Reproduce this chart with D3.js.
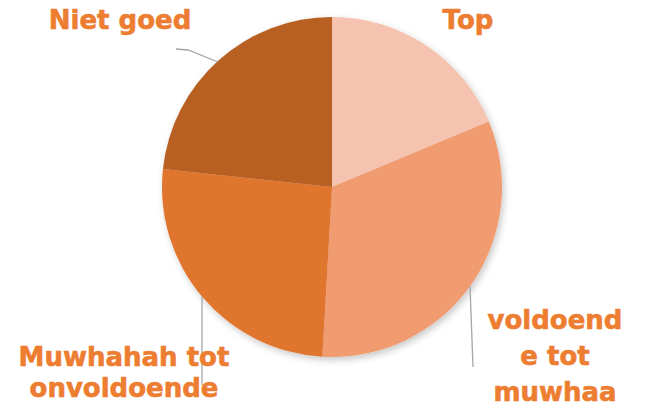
<!DOCTYPE html>
<html><head><meta charset="utf-8">
<script src="https://cdn.jsdelivr.net/npm/d3@7"></script>
<style>body{margin:0;background:#fff}svg{display:block}</style>
</head><body><svg id="c" width="653" height="408"></svg>
<script>
const categories = ["Top", "voldoende tot muwhaa", "Muwhahah tot onvoldoende", "Niet goed"];
const values = [18.7, 32.2, 25.8, 23.3];
const colors = ["#F5C3AF", "#F09B70", "#E0742E", "#B86023"];
const labelLines = [["Top"], ["voldoend", "e tot", "muwhaa"], ["Muwhahah tot", "onvoldoende"], ["Niet goed"]];

const svg = d3.select("#c");
const cx = 332, cy = 187, r = 170;
const defs = svg.append("defs");
const f = defs.append("filter").attr("id","sh").attr("x","-20%").attr("y","-20%").attr("width","140%").attr("height","140%");
f.append("feDropShadow").attr("dx",2).attr("dy",3).attr("stdDeviation",3.5).attr("flood-color","#000").attr("flood-opacity",0.22);

const pie = d3.pie().sort(null).value(d => d);
const arcs = pie(values);
const arc = d3.arc().innerRadius(0).outerRadius(r);
const g = svg.append("g").attr("transform", `translate(${cx},${cy})`);
g.append("g").attr("filter","url(#sh)").selectAll("path").data(arcs).join("path")
  .attr("d", arc).attr("fill", (d,i) => colors[i]);

// leader lines
const line = d3.line();
function ptAtX(x, lower) {
  const dx = x - cx, dy = Math.sqrt(r*r - dx*dx);
  return [x, lower ? cy + dy : cy - dy];
}
const leaders = [
  null,
  [ptAtX(470, true), [473, 367]],
  [ptAtX(202, true), [202, 385]],
  [[218, 62], [188, 50], [176, 49]]
];
svg.append("g").selectAll("path").data(leaders.filter(d => d)).join("path")
  .attr("d", d => line(d)).attr("fill","none").attr("stroke","#A6A6A6").attr("stroke-width",1.3);

// labels
const labelPos = [
  {x: 468, y: [29]},
  {x: 555, y: [329, 365, 401]},
  {x: 124, y: [366, 397]},
  {x: 120, y: [29]}
];
const lg = svg.append("g");
labelLines.forEach((lines, i) => {
  lines.forEach((t, j) => {
    lg.append("text").attr("x", labelPos[i].x).attr("y", labelPos[i].y[j])
      .attr("text-anchor","middle").attr("fill","#ED7D31")
      .attr("stroke","#ED7D31").attr("stroke-width",0.6)
      .attr("font-family","'DejaVu Sans', sans-serif").attr("font-weight","bold")
      .attr("font-size", 26).text(t);
  });
});
</script></body></html>
